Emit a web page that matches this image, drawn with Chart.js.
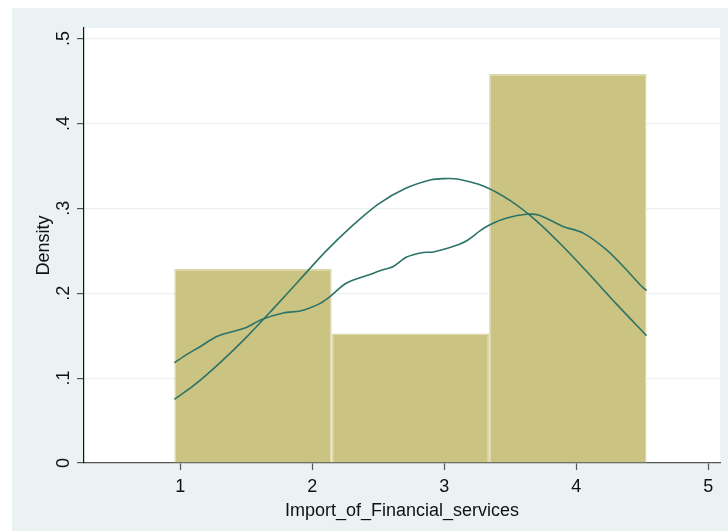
<!DOCTYPE html>
<html lang="en">
<head>
<meta charset="UTF-8">
<title>Import_of_Financial_services histogram</title>
<script src="https://cdn.jsdelivr.net/npm/chart.js"></script>
<style>
    html, body { margin: 0; padding: 0; background: #ffffff; }
    #wrap { width: 728px; height: 531px; position: relative; }
</style>
</head>
<body>
<div id="wrap"><canvas id="chart"></canvas></div>
<script>
// histogram bins (centers) and densities
const binCenters = [1.551, 2.744, 3.936];
const binDensity = [0.2285, 0.1524, 0.4582];
const binWidth = 1.1925;

// normal density overlay
const normalX = [0.955, 1.1, 1.3, 1.5, 1.7, 1.9, 2.1, 2.3, 2.5, 2.7, 2.9, 3.0, 3.1, 3.3, 3.5, 3.7, 3.9, 4.1, 4.3, 4.532];
const normalY = [0.075, 0.091, 0.118, 0.148, 0.181, 0.215, 0.249, 0.279, 0.305, 0.323, 0.3336, 0.3350, 0.3345, 0.326, 0.309, 0.285, 0.255, 0.222, 0.188, 0.150];

// kernel density overlay
const kernelX = [0.955, 1.05, 1.15, 1.276, 1.40, 1.49, 1.617, 1.78, 1.907, 1.98, 2.06, 2.134, 2.26, 2.437, 2.513, 2.614, 2.715, 2.84, 2.917, 3.018, 3.119, 3.182, 3.27, 3.346, 3.473, 3.624, 3.725, 3.90, 4.053, 4.23, 4.38, 4.483, 4.533];
const kernelY = [0.118, 0.128, 0.137, 0.149, 0.155, 0.159, 0.169, 0.1767, 0.179, 0.1825, 0.188, 0.196, 0.212, 0.222, 0.2265, 0.2315, 0.2426, 0.248, 0.2485, 0.2527, 0.258, 0.263, 0.2735, 0.2806, 0.2885, 0.293, 0.2916, 0.2786, 0.2708, 0.251, 0.2276, 0.21, 0.203];

const xTickValues = [1, 2, 3, 4, 5];
const yTickValues = [0, 0.1, 0.2, 0.3, 0.4, 0.5];
const yTickLabels = ['0', '.1', '.2', '.3', '.4', '.5'];

const lineColor = '#2c7368';
const fontFamily = '"Liberation Sans", Arial, sans-serif';

const background = {
    id: 'background',
    beforeDraw(chart) {
        const { ctx, chartArea: a } = chart;
        ctx.save();
        ctx.fillStyle = '#eaf2f3';
        ctx.fillRect(12, 8, chart.width - 12, chart.height - 8);
        ctx.fillStyle = '#ffffff';
        ctx.fillRect(a.left, a.top, a.right - a.left, a.bottom - a.top);
        ctx.restore();
    }
};

new Chart(document.getElementById('chart'), {
    type: 'bar',
    data: {
        datasets: [
            {
                type: 'line',
                label: 'kernel',
                data: kernelX.map((x, i) => ({ x: x, y: kernelY[i] })),
                borderColor: lineColor,
                borderWidth: 1.6,
                pointRadius: 0,
                tension: 0.3,
                fill: false
            },
            {
                type: 'line',
                label: 'normal',
                data: normalX.map((x, i) => ({ x: x, y: normalY[i] })),
                borderColor: lineColor,
                borderWidth: 1.6,
                pointRadius: 0,
                tension: 0.3,
                fill: false
            },
            {
                label: 'Density',
                data: binCenters.map((x, i) => ({ x: x, y: binDensity[i] })),
                backgroundColor: '#cbc381',
                borderColor: '#dcd8aa',
                borderWidth: 1.5,
                borderSkipped: 'bottom',
                // ruler spacing is one tick (1 unit), so scale to the bin width
                barPercentage: binWidth,
                categoryPercentage: 1
            }
        ]
    },
    options: {
        responsive: true,
        maintainAspectRatio: false,
        animation: false,
        layout: { padding: { left: 0, top: 28, right: 8, bottom: 0 } },
        plugins: {
            legend: { display: false },
            tooltip: { enabled: false }
        },
        scales: {
            x: {
                type: 'linear',
                offset: false,
                min: 0.2705,
                max: 5.089,
                afterBuildTicks: s => { s.ticks = xTickValues.map(v => ({ value: v })); },
                afterFit: s => { s.height = 68; },
                grid: {
                    offset: false,
                    drawOnChartArea: false,
                    tickLength: 7,
                    tickColor: '#555555',
                    tickWidth: 1.2
                },
                border: { color: '#555555', width: 1.2 },
                ticks: {
                    color: '#111111',
                    padding: 6,
                    maxRotation: 0,
                    font: { family: fontFamily, size: 18 }
                },
                title: {
                    display: true,
                    text: 'Import_of_Financial_services',
                    color: '#111111',
                    padding: { top: 0, bottom: 9.6 },
                    font: { family: fontFamily, size: 18 }
                }
            },
            y: {
                min: 0,
                max: 0.5124,
                afterBuildTicks: s => { s.ticks = yTickValues.map(v => ({ value: v })); },
                afterFit: s => { s.width = 84; },
                grid: {
                    color: '#eaf2f3',
                    lineWidth: 1.2,
                    tickLength: 7,
                    tickColor: '#555555',
                    tickWidth: 1.2
                },
                border: { color: '#111111', width: 1.2 },
                ticks: {
                    color: '#111111',
                    padding: 5,
                    autoSkip: false,
                    minRotation: 90,
                    maxRotation: 90,
                    crossAlign: 'center',
                    font: { family: fontFamily, size: 18 },
                    callback: (v, i) => yTickLabels[yTickValues.indexOf(v)]
                },
                title: {
                    display: true,
                    text: 'Density',
                    color: '#111111',
                    padding: { top: 33, bottom: 0 },
                    font: { family: fontFamily, size: 18 }
                }
            }
        }
    },
    plugins: [background]
});
</script>
</body>
</html>
